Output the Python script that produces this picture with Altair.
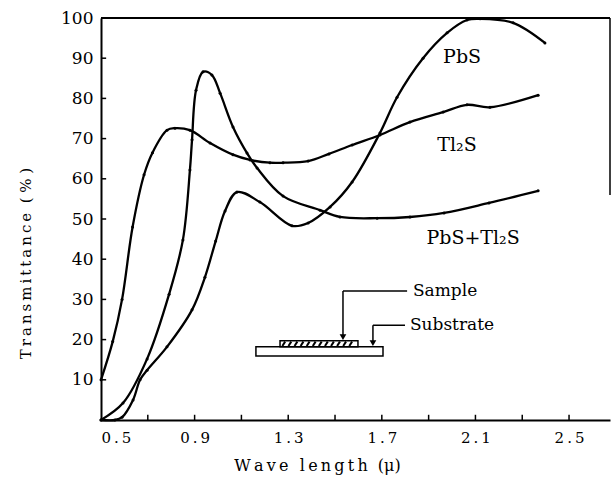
import altair as alt
import pandas as pd
import numpy as np

# ---- curve data ----
tl2s_x = [0.5, 0.55, 0.59, 0.635, 0.684, 0.72, 0.782, 0.816, 0.88, 0.966, 1.064, 1.137, 1.222, 1.278,
          1.385, 1.474, 1.573, 1.692, 1.82, 1.962, 2.064, 2.162, 2.368]
tl2s_y = [10, 19.5, 30, 48, 61, 66.5, 72.1, 72.6, 72.1, 68.9, 66, 64.7, 64, 64,
          64.4, 66.2, 68.4, 70.9, 74.1, 76.6, 78.4, 77.8, 80.8]

pbs_x = [0.5, 0.56, 0.59, 0.637, 0.667, 0.697, 0.782, 0.889, 0.944, 0.99, 1.03, 1.081,
         1.179, 1.316, 1.385, 1.479, 1.573, 1.692, 1.765, 1.876, 1.979, 2.064, 2.12, 2.261, 2.397]
pbs_y = [0, 0, 0.7, 5, 10, 12.4, 18.2, 27.4, 35.5, 44.5, 52, 56.7,
         54.2, 48.3, 49, 53, 59.2, 71.4, 80.3, 90, 96.3, 99.5, 99.8, 98.8, 93.8]

mix_x = [0.5, 0.594, 0.697, 0.791, 0.85, 0.88, 0.889, 0.906, 0.936, 0.974, 1.009,
         1.064, 1.124, 1.167, 1.278, 1.436, 1.521, 1.68, 1.82, 1.966, 2.158, 2.368]
mix_y = [0, 4.2, 15.2, 31.3, 44.8, 62.2, 69.7, 82, 86.6, 85.8, 81.3,
         72.9, 66.4, 62.7, 55.7, 52.2, 50.5, 50.2, 50.5, 51.5, 54, 57]

series_names = ["Tl2S", "PbS", "PbS+Tl2S"]

x_tick_labels = [0.5, 0.9, 1.3, 1.7, 2.1, 2.5]
x_minor_ticks = [0.7, 0.9, 1.1, 1.3, 1.5, 1.7, 1.9, 2.1, 2.3, 2.5]
y_tick_labels = [10, 20, 30, 40, 50, 60, 70, 80, 90, 100]
y_minor_ticks = [10, 20, 30, 40, 50, 60, 70, 80, 90]

curve_labels = ["PbS", "Tl₂S", "PbS+Tl₂S"]
curve_label_x = [2.043, 2.021, 2.09]
curve_label_y = [90.3, 68.4, 45.3]

X0, X1 = 0.5, 2.675
FONT = "DejaVu Serif"
TS = "\u2009"   # thin space (letter spacing)
NB = "\u00a0"   # non-breaking space (word gap)


def spaced(s):
    return TS.join(ch if ch != " " else NB for ch in s)


rows = []
for name, xs_, ys_ in zip(series_names, [tl2s_x, pbs_x, mix_x], [tl2s_y, pbs_y, mix_y]):
    for a, b in zip(xs_, ys_):
        rows.append({"series": name, "x": a, "y": b})
df = pd.DataFrame(rows)

xs = alt.Scale(domain=[X0, X1], nice=False, zero=False)
ys = alt.Scale(domain=[0, 100], nice=False)

x_axis = alt.Axis(values=x_tick_labels, ticks=False, grid=False, domainColor="black",
                  domainWidth=2, labelFont=FONT, labelFontSize=15, labelColor="black",
                  labelPadding=10,
                  labelExpr="replace(format(datum.value, '.1f'), '.', '\u2009.\u2009')",
                  title=spaced("Wave length") + NB + NB + "(μ)", titleFont=FONT, titleFontSize=16,
                  titleFontWeight="normal", titleColor="black",
                  titleX=216, titleY=45, titleBaseline="middle",
                  titleAlign="center")
y_axis = alt.Axis(values=y_tick_labels, ticks=False, grid=False, domainColor="black",
                  domainWidth=2, labelFont=FONT, labelFontSize=17, labelColor="black",
                  labelPadding=8,
                  title=spaced("Transmittance") + NB + NB + "(" + NB + "%" + NB + ")",
                  titleFont=FONT, titleFontSize=15,
                  titleFontWeight="normal", titleColor="black",
                  titleX=-76, titleY=245, titleBaseline="middle", titleAlign="center",
                  titleAngle=270)

lines = alt.Chart(df).mark_line(interpolate="catmull-rom", color="black", strokeWidth=2.3).encode(
    x=alt.X("x:Q", scale=xs, axis=x_axis),
    y=alt.Y("y:Q", scale=ys, axis=y_axis),
    detail="series:N",
)
dots = alt.Chart(df).mark_circle(color="black", size=9, opacity=1).encode(
    x=alt.X("x:Q", scale=xs), y=alt.Y("y:Q", scale=ys))

# inward ticks
xt = pd.DataFrame({"x": x_minor_ticks})
x_ticks = alt.Chart(xt).mark_rule(color="black", strokeWidth=1.5).encode(
    x=alt.X("x:Q", scale=xs), y=alt.datum(0), y2=alt.datum(1.3))
yt = pd.DataFrame({"y": y_minor_ticks})
y_ticks = alt.Chart(yt).mark_rule(color="black", strokeWidth=1.5).encode(
    y=alt.Y("y:Q", scale=ys), x=alt.datum(X0), x2=alt.datum(X0 + 0.022))

# frame: top and partial right border
top_border = alt.Chart(pd.DataFrame({"a": [0]})).mark_rule(color="black", strokeWidth=2).encode(
    x=alt.datum(X0), x2=alt.datum(X1), y=alt.datum(100))
right_border = alt.Chart(pd.DataFrame({"a": [0]})).mark_rule(color="black", strokeWidth=1.5).encode(
    x=alt.datum(X1), y=alt.datum(100), y2=alt.datum(56))

# curve labels
lab_df = pd.DataFrame({"t": curve_labels, "x": curve_label_x, "y": curve_label_y})
labels = alt.Chart(lab_df).mark_text(font=FONT, fontSize=19, color="black",
                                     align="center", baseline="middle").encode(
    x=alt.X("x:Q", scale=xs), y=alt.Y("y:Q", scale=ys), text="t:N")

# inset diagram (sample on substrate)
inset_rects = pd.DataFrame({
    "x": [1.162, 1.265], "x2": [1.705, 1.598],
    "y": [15.9, 18.2], "y2": [18.2, 19.7],
})
rects = alt.Chart(inset_rects).mark_rect(fill="white", stroke="black", strokeWidth=1.5).encode(
    x=alt.X("x:Q", scale=xs), x2="x2:Q", y=alt.Y("y:Q", scale=ys), y2="y2:Q")

hatch_x = list(np.arange(1.275, 1.585, 0.026))
hatch = alt.Chart(pd.DataFrame({"x": hatch_x, "x2": [h + 0.012 for h in hatch_x]})).mark_rule(
    color="black", strokeWidth=2).encode(
    x=alt.X("x:Q", scale=xs), x2="x2:Q", y=alt.datum(18.4), y2=alt.datum(19.5))

leader_segs = pd.DataFrame({
    "x": [1.534, 1.534, 1.662, 1.662],
    "x2": [1.534, 1.808, 1.662, 1.799],
    "y": [32.1, 32.1, 23.6, 23.6],
    "y2": [20.6, 32.1, 19.0, 23.6],
})
leaders = alt.Chart(leader_segs).mark_rule(color="black", strokeWidth=1.5).encode(
    x=alt.X("x:Q", scale=xs), x2="x2:Q", y=alt.Y("y:Q", scale=ys), y2="y2:Q")
heads = alt.Chart(pd.DataFrame({"x": [1.534, 1.662], "y": [20.6, 19.1]})).mark_point(
    shape="triangle-down", filled=True, color="black", size=45, opacity=1).encode(
    x=alt.X("x:Q", scale=xs), y=alt.Y("y:Q", scale=ys))

inset_text = alt.Chart(pd.DataFrame({"t": ["Sample", "Substrate"], "x": [1.833, 1.82],
                                     "y": [32.1, 23.6]})).mark_text(
    font=FONT, fontSize=17, color="black", align="left", baseline="middle").encode(
    x=alt.X("x:Q", scale=xs), y=alt.Y("y:Q", scale=ys), text="t:N")

chart = alt.layer(
    lines, dots, x_ticks, y_ticks, top_border, right_border, labels,
    rects, hatch, leaders, heads, inset_text,
).properties(
    width=509, height=402,
    padding={"left": 101, "top": 18, "right": 2, "bottom": 63},
    autosize=alt.AutoSizeParams(type="none"),
    background="white",
).configure_view(stroke=None)

chart.save("out.html", embed_options={"renderer": "svg", "actions": False})
